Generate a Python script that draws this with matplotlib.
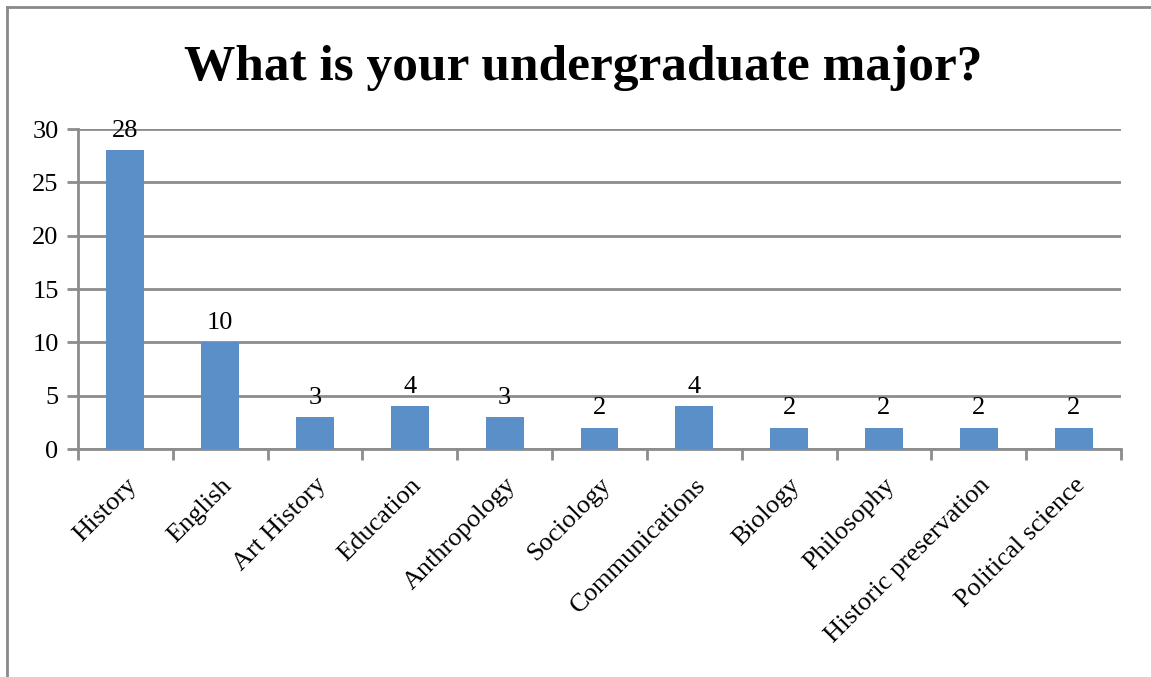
import matplotlib
matplotlib.use("Agg")
import matplotlib.pyplot as plt
from matplotlib.lines import Line2D
import numpy as np

categories = ["History", "English", "Art History", "Education", "Anthropology",
              "Sociology", "Communications", "Biology", "Philosophy",
              "Historic preservation", "Political science"]
values = [28, 10, 3, 4, 3, 2, 4, 2, 2, 2, 2]
yticks = [0, 5, 10, 15, 20, 25, 30]

plt.rcParams['font.family'] = ['Liberation Serif', 'DejaVu Serif']

fig = plt.figure(figsize=(11.51, 6.77), dpi=100)
W, H = 1151, 677
ax = fig.add_axes([78 / W, 1 - 449 / H, (1121 - 78) / W, (449 - 129) / H])

x = np.arange(len(categories))
bar_color = "#5b8fc7"
grid_color = "#8c8c8c"
ax.bar(x, values, width=0.4, color=bar_color, zorder=3)
for xi, v in zip(x, values):
    ax.annotate(str(v), (xi, v), xytext=(0, 6), textcoords="offset points",
                ha="center", va="bottom", fontsize=19, zorder=4)

ax.set_xlim(-0.5, len(categories) - 0.5)
ax.set_ylim(0, 30)
ax.set_yticks(yticks)
ax.set_yticklabels([str(t) for t in yticks], fontsize=19)
ax.yaxis.grid(True, color=grid_color, linewidth=2, zorder=0)
ax.set_axisbelow(True)

ax.set_xticks(np.arange(len(categories) + 1) - 0.5)
ax.set_xticklabels([])
ax.set_xticks(x, minor=True)
ax.set_xticklabels(categories, minor=True, rotation=45, ha="right",
                   rotation_mode="anchor", fontsize=19)
ax.tick_params(axis="x", which="minor", length=0, pad=18)
ax.tick_params(axis="x", which="major", length=8, width=2, color=grid_color, direction="out")
ax.tick_params(axis="y", length=8, width=2, color=grid_color, direction="out", pad=6)

for s in ["top", "right"]:
    ax.spines[s].set_visible(False)
for s in ["left", "bottom"]:
    ax.spines[s].set_color(grid_color)
    ax.spines[s].set_linewidth(2)

fig.text(583 / W, 1 - 68 / H, "What is your undergraduate major?", ha="center",
         va="center", fontsize=37, fontweight="bold")

# outer chart border (left & top visible)
fig.add_artist(Line2D([7 / W, 7 / W], [0, 1 - 7 / H], transform=fig.transFigure,
                      color="#8a8a8a", linewidth=2))
fig.add_artist(Line2D([7 / W, 1], [1 - 7 / H, 1 - 7 / H], transform=fig.transFigure,
                      color="#8a8a8a", linewidth=2))

fig.savefig("out.png", dpi=100)
